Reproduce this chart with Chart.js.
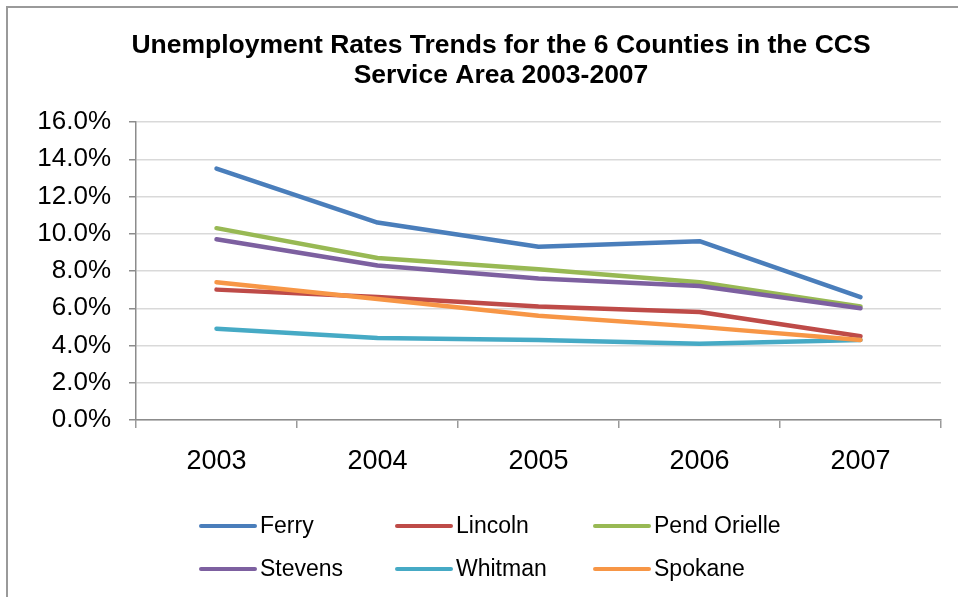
<!DOCTYPE html>
<html>
<head>
<meta charset="utf-8">
<title>Unemployment Rates Trends</title>
<script src="https://cdn.jsdelivr.net/npm/chart.js@4.4.1/dist/chart.umd.min.js"></script>
<style>
    html, body { margin: 0; padding: 0; background: #fff; overflow: hidden; }
    .wrap { position: relative; width: 958px; height: 597px; overflow: hidden; }
    .frame {
        position: absolute; left: 6px; top: 6px; width: 990px; height: 640px;
        border-left: 2px solid #9a9a9a; border-top: 2px solid #9a9a9a;
    }
    #chart { position: absolute; left: 0; top: 0; }
</style>
</head>
<body>
<div class="wrap">
    <div class="frame"></div>
    <canvas id="chart" width="958" height="597"></canvas>
</div>
<script>
// ==========================================
// 1. DỮ LIỆU (tỷ lệ thất nghiệp, %)
// ==========================================
const titleLines = ['Unemployment Rates Trends for the 6 Counties in the CCS', 'Service Area 2003-2007'];
const years = ['2003', '2004', '2005', '2006', '2007'];
const ferry = [13.5, 10.6, 9.3, 9.6, 6.6];
const lincoln = [7.0, 6.6, 6.1, 5.8, 4.5];
const pendOrielle = [10.3, 8.7, 8.1, 7.4, 6.1];
const stevens = [9.7, 8.3, 7.6, 7.2, 6.0];
const whitman = [4.9, 4.4, 4.3, 4.1, 4.3];
const spokane = [7.4, 6.5, 5.6, 5.0, 4.3];
const yTicks = [0, 2, 4, 6, 8, 10, 12, 14, 16];

const seriesNames = ['Ferry', 'Lincoln', 'Pend Orielle', 'Stevens', 'Whitman', 'Spokane'];
const seriesData = [ferry, lincoln, pendOrielle, stevens, whitman, spokane];
const seriesColors = ['#4a7ebb', '#be4b48', '#98b954', '#7d60a0', '#46aac5', '#f79646'];

const FONT = "'Liberation Sans', Arial, sans-serif";

// ==========================================
// 2. TIÊU ĐỀ (căn giữa theo x = 501, không theo canvas)
// ==========================================
const offsetTitle = {
    id: 'offsetTitle',
    afterDraw(chart) {
        const ctx = chart.ctx;
        ctx.save();
        ctx.font = 'bold 26.5px ' + FONT;
        ctx.fillStyle = '#000';
        ctx.textAlign = 'center';
        ctx.textBaseline = 'alphabetic';
        titleLines.forEach((line, i) => ctx.fillText(line, 501, 53 + i * 30));
        ctx.restore();
    }
};

// ==========================================
// 3. CHÚ THÍCH DẠNG LƯỚI (3 cột x 2 hàng)
// ==========================================
const gridLegend = {
    id: 'gridLegend',
    afterDraw(chart) {
        const ctx = chart.ctx;
        const colX = [201, 397, 595];
        const rowY = [526, 569];
        const lineLen = 54;
        ctx.save();
        ctx.font = '23px ' + FONT;
        ctx.textBaseline = 'middle';
        ctx.fillStyle = '#000';
        chart.data.datasets.forEach((ds, i) => {
            const x = colX[i % 3];
            const y = rowY[Math.floor(i / 3)];
            ctx.strokeStyle = ds.borderColor;
            ctx.lineWidth = 4;
            ctx.lineCap = 'round';
            ctx.beginPath();
            ctx.moveTo(x, y);
            ctx.lineTo(x + lineLen, y);
            ctx.stroke();
            ctx.fillText(ds.label, x + lineLen + 5, y + 1);
        });
        ctx.restore();
    }
};

// ==========================================
// 4. VẼ BIỂU ĐỒ ĐƯỜNG
// ==========================================
const datasets = seriesNames.map((name, i) => ({
    label: name,
    data: seriesData[i],
    borderColor: seriesColors[i],
    backgroundColor: seriesColors[i],
    borderWidth: 4.5,
    borderCapStyle: 'round',
    borderJoinStyle: 'round',
    pointRadius: 0,
    tension: 0,
    order: seriesNames.length - i   // chuỗi sau nằm trên
}));

new Chart(document.getElementById('chart'), {
    type: 'line',
    data: { labels: years, datasets: datasets },
    options: {
        responsive: false,
        animation: false,
        devicePixelRatio: 1,
        layout: { padding: { left: 0, right: 17, top: 122, bottom: 97 } },
        plugins: {
            legend: { display: false },
            tooltip: { enabled: false },
            title: { display: false }
        },
        scales: {
            x: {
                offset: true,
                grid: { offset: true, drawOnChartArea: false, drawTicks: true, tickLength: 8, color: '#9a9a9a', lineWidth: 1.5 },
                border: { color: '#8c8c8c', width: 1.5 },
                ticks: { color: '#000', font: { family: FONT, size: 27 }, padding: 17, maxRotation: 0 },
                afterFit: s => { s.height = 80; }
            },
            y: {
                min: 0,
                max: 16,
                afterBuildTicks: s => { s.ticks = yTicks.map(v => ({ value: v })); },
                grid: { color: '#d9d9d9', lineWidth: 1.5, tickLength: 7, tickColor: '#8c8c8c' },
                border: { color: '#8c8c8c', width: 1.5 },
                ticks: {
                    color: '#000',
                    font: { family: FONT, size: 26 },
                    padding: 18,
                    callback: v => v.toFixed(1) + '%'
                },
                afterFit: s => { s.width = 136; }
            }
        }
    },
    plugins: [offsetTitle, gridLegend]
});
</script>
</body>
</html>
